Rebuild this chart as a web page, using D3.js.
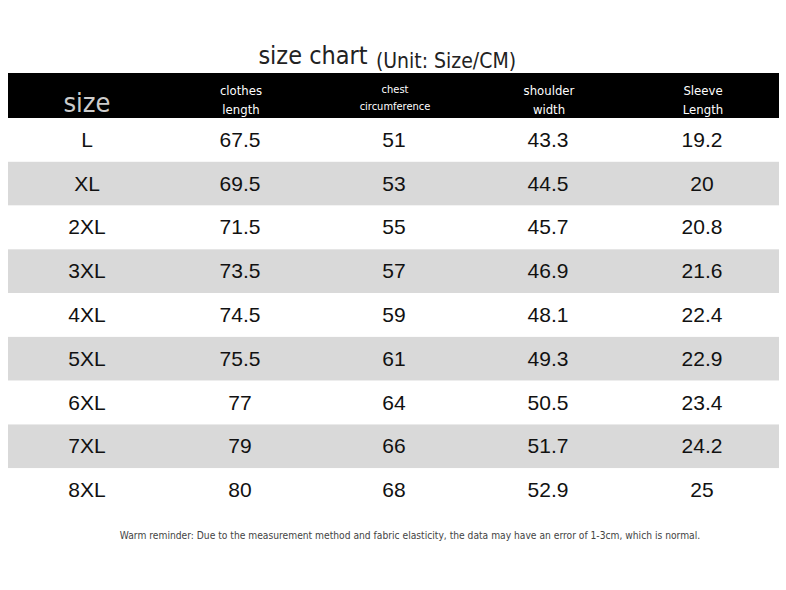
<!DOCTYPE html>
<html><head><meta charset="utf-8">
<script src="https://cdn.jsdelivr.net/npm/d3@7"></script>
<style>body{margin:0;background:#fff}</style>
</head><body>
<script>
// table data
var sizes = ['L', 'XL', '2XL', '3XL', '4XL', '5XL', '6XL', '7XL', '8XL'];
var clothesLength = ['67.5', '69.5', '71.5', '73.5', '74.5', '75.5', '77', '79', '80'];
var chest = ['51', '53', '55', '57', '59', '61', '64', '66', '68'];
var shoulder = ['43.3', '44.5', '45.7', '46.9', '48.1', '49.3', '50.5', '51.7', '52.9'];
var sleeve = ['19.2', '20', '20.8', '21.6', '22.4', '22.9', '23.4', '24.2', '25'];
var headers = [['clothes', 'length'], ['chest', 'circumference'], ['shoulder', 'width'], ['Sleeve', 'Length']];

var width = 786, height = 590;
var narrow = "'DejaVu Sans Condensed', 'Liberation Sans Narrow', sans-serif";
var svg = d3.select('body').append('svg').attr('width', width).attr('height', height);

var cols = [sizes, clothesLength, chest, shoulder, sleeve];
var xScale = d3.scalePoint().domain(d3.range(5)).range([87, 703]);
var yScale = d3.scaleBand().domain(sizes).range([118, 512]);

// title
svg.append('text').attr('x', 313).attr('y', 64).attr('text-anchor', 'middle')
   .style('font-family', narrow).style('font-size', '25px').attr('fill', '#222')
   .text('size chart');
svg.append('text').attr('x', 446).attr('y', 68).attr('text-anchor', 'middle')
   .style('font-family', narrow).style('font-size', '21px').attr('fill', '#222')
   .text('(Unit: Size/CM)');

// header band
svg.append('rect').attr('x', 8).attr('y', 73).attr('width', 771).attr('height', 45).attr('fill', '#000');
svg.append('text').attr('x', xScale(0)).attr('y', 112).attr('text-anchor', 'middle')
   .style('font-family', narrow).style('font-size', '27px').attr('fill', '#ccc').text('size');
headers.forEach(function (h, i) {
  var small = h[1] === 'circumference';
  svg.append('text').attr('x', xScale(i + 1)).attr('y', small ? 93 : 95).attr('text-anchor', 'middle')
     .style('font-family', narrow).style('font-size', small ? '11px' : '13px').attr('fill', '#fff').text(h[0]);
  svg.append('text').attr('x', xScale(i + 1)).attr('y', small ? 110 : 114).attr('text-anchor', 'middle')
     .style('font-family', narrow).style('font-size', small ? '11px' : '13px').attr('fill', '#fff').text(h[1]);
});

// striped rows
svg.selectAll('rect.row').data(sizes).enter().append('rect').attr('class', 'row')
   .attr('x', 8).attr('width', 771)
   .attr('y', function (d) { return yScale(d); })
   .attr('height', yScale.bandwidth())
   .attr('fill', function (d, i) { return i % 2 ? '#d9d9d9' : '#fff'; });

cols.forEach(function (col, c) {
  svg.selectAll('text.c' + c).data(col).enter().append('text')
     .attr('x', xScale(c) - (c ? 1 : 0))
     .attr('y', function (d, i) { return yScale(sizes[i]) + yScale.bandwidth() / 2 + 7; })
     .attr('text-anchor', 'middle')
     .style('font-family', "'Liberation Sans', Arial, sans-serif").style('font-size', '21px')
     .attr('fill', '#111').text(function (d) { return d; });
});

svg.append('text').attr('x', 410).attr('y', 539).attr('text-anchor', 'middle')
   .style('font-family', narrow).style('font-size', '10.2px').attr('fill', '#444')
   .text('Warm reminder: Due to the measurement method and fabric elasticity, the data may have an error of 1-3cm, which is normal.');
</script>
</body></html>
